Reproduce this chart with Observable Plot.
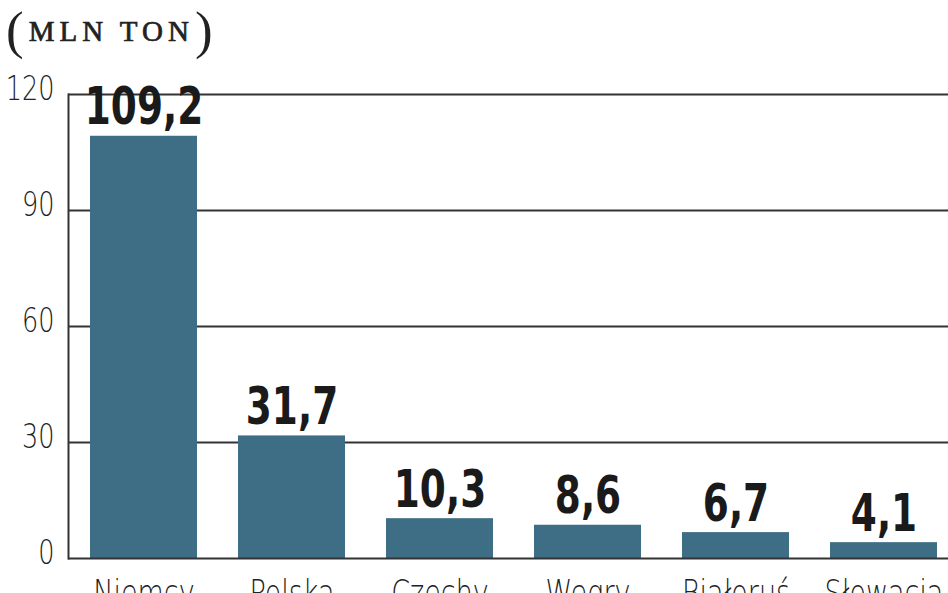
<!DOCTYPE html>
<html><head><meta charset="utf-8">
<script src="https://cdn.jsdelivr.net/npm/d3@7"></script>
<script src="https://cdn.jsdelivr.net/npm/@observablehq/plot@0.6"></script>
<style>
html,body{margin:0;padding:0;background:#fff;overflow:hidden;width:948px;height:593px}
#title{position:absolute;left:6px;top:0px;height:60px;display:flex;align-items:center;font-family:"Liberation Serif","DejaVu Serif",serif;color:#222;white-space:nowrap;line-height:1}
#title .p{font-size:53px;font-weight:normal}
#title .t{font-size:29px;letter-spacing:5px;padding:0 1px 0 5px;-webkit-text-stroke:0.7px #222;position:relative;top:1px}
#chart{position:absolute;left:0;top:60px}
</style></head><body>
<div id="title"><span class="p">(</span><span class="t">MLN TON</span><span class="p">)</span></div>
<div id="chart"></div>
<script>
const countries = ["Niemcy", "Polska", "Czechy", "Węgry", "Białoruś", "Słowacja"];
const values = [109.2, 31.7, 10.3, 8.6, 6.7, 4.1];
const yTicks = [0, 30, 60, 90, 120];
const gridTicks = [30, 60, 90, 120];
const data = countries.map((c, i) => ({country: c, value: values[i]}));
const fmt = v => v.toFixed(1).replace(".", ",");
const bold = "'DejaVu Sans Condensed', 'DejaVu Sans', sans-serif";
const light = "'DejaVu Sans', sans-serif";

const plot = Plot.plot({
  width: 948, height: 548,
  marginLeft: 68, marginRight: 0, marginTop: 34, marginBottom: 50,
  x: {domain: countries, range: [68, 959], paddingInner: 0.277, paddingOuter: 0.1486, align: 0.5, label: null},
  y: {domain: [0, 120], label: null},
  style: {background: "#fff", overflow: "visible"},
  marks: [
    Plot.ruleY(gridTicks, {stroke: "#333", strokeWidth: 2}),
    Plot.barY(data, {x: "country", y: "value", fill: "#3e6e86"}),
    Plot.ruleY([0], {stroke: "#333", strokeWidth: 2}),
    Plot.frame({anchor: "left", stroke: "#333", strokeWidth: 2}),
    Plot.axisY(yTicks, {tickSize: 0, tickPadding: 14, fontSize: 34, fontFamily: light, fontWeight: 200, fill: "#222", dy: -5, label: null, className: "sq"}),
    Plot.axisX({tickSize: 0, tickPadding: 21, fontSize: 36, fontFamily: light, fontWeight: 200, fill: "#222", label: null, className: "sq"}),
    Plot.text(data, {x: "country", y: "value", text: d => fmt(d.value), dy: -12, lineAnchor: "bottom", fontSize: 52, fontWeight: "bold", fontFamily: bold, fill: "#1a1a1a", className: "sqb"})
  ]
});
document.getElementById("chart").appendChild(plot);
// horizontally condense text glyphs in place
function squeeze(sel, k) {
  plot.querySelectorAll(sel).forEach(t => {
    const tr = t.getAttribute("transform") || "";
    t.setAttribute("transform", (tr + ` scale(${k},1)`).trim());
    if (t.hasAttribute("x")) t.setAttribute("x", (+t.getAttribute("x")) / k);
  });
}
squeeze(".sq text", 0.75);
squeeze(".sqb text", 0.8);
</script>
</body></html>
